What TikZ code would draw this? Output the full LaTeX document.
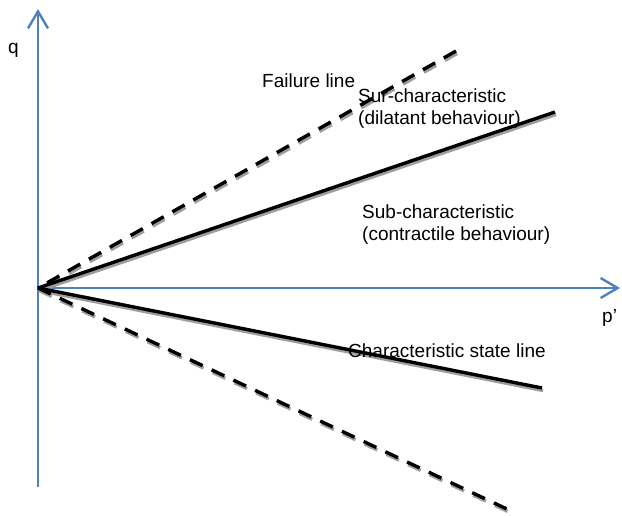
\documentclass[tikz,border=0pt]{standalone}
\usepackage{fontspec}
\setmainfont{Liberation Sans}
\usetikzlibrary{arrows.meta}
\definecolor{axisblue}{RGB}{79,129,189}

\begin{document}
\begin{tikzpicture}[x=1pt, y=-1pt,
  axis/.style={axisblue, line width=2.4pt, -{Straight Barb[length=17pt, width=20pt]}},
  stateline/.style={black, line width=3.4pt},
  shadowline/.style={black!38, line width=3.4pt, transform canvas={shift={(1pt,-2.5pt)}}},
  dashedline/.style={dash pattern=on 14pt off 10pt},
  lbl/.style={font=\fontsize{19}{22}\selectfont, inner sep=0pt, anchor=base west, align=left}]
\useasboundingbox (0,0) rectangle (622,515);

% Origin and end points of the lines
\coordinate (O) at (38,288);
\coordinate (qtop) at (38,9);
\coordinate (qbot) at (38,487);
\coordinate (ptip) at (620,288);
\coordinate (failend) at (456,51);
\coordinate (surend) at (555,112);
\coordinate (cslend) at (542,388);
\coordinate (lowend) at (509,510);

% Axes
\draw[axis] (qbot) -- (qtop);
\draw[axis] (O) -- (ptip);

% Grey shadows
\draw[shadowline, dashedline, dash phase=13.5pt] (O) -- (failend);
\draw[shadowline] (O) -- (surend);
\draw[shadowline] (O) -- (cslend);
\draw[shadowline, dashedline] (O) -- (lowend);

% Failure lines and characteristic state lines
\draw[stateline, dashedline, dash phase=13.5pt] (O) -- (failend);
\draw[stateline] (O) -- (surend);
\draw[stateline] (O) -- (cslend);
\draw[stateline, dashedline] (O) -- (lowend);

% Labels (base = last line)
\node[lbl] (qlab) at (8,53) {q};
\node[lbl] (plab) at (602,322) {p’};
\node[lbl] (fail) at (262,87) {Failure line};
\node[lbl] (sur) at (358,124) {Sur-characteristic\\(dilatant behaviour)};
\node[lbl] (sub) at (362,240) {Sub-characteristic\\(contractile behaviour)};
\node[lbl] (csl) at (348,357) {Characteristic state line};
\end{tikzpicture}
\end{document}
